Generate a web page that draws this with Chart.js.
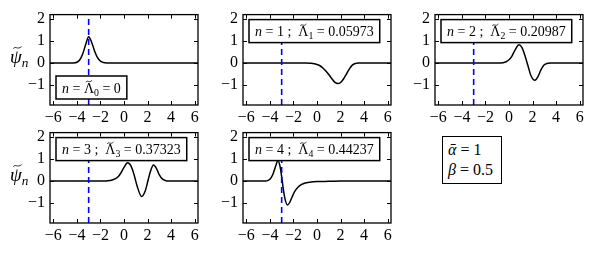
<!DOCTYPE html>
<html>
<head>
<meta charset="utf-8">
<script src="https://cdn.jsdelivr.net/npm/chart.js@4.4.1/dist/chart.umd.min.js"></script>
<style>
html, body { margin: 0; padding: 0; background: #fff; }
body { width: 607px; height: 253px; position: relative; overflow: hidden; }
.panel { position: absolute; }
#params {
    position: absolute; left: 442px; top: 136px; width: 53px; height: 43px;
    border: 1.5px solid #000; background: #fff;
    font: 16px "Liberation Serif", serif; color: #000;
    padding: 3px 0 0 5px; line-height: 20px; box-sizing: content-box;
}
#params i { font-style: italic; }
</style>
</head>
<body>
<div id="params"><div><i>ᾱ</i> = 1</div><div><i>β</i> = 0.5</div></div>
<script>
// axes
const xTicks = [-6, -4, -2, 0, 2, 4, 6];
const yTicks = [-1, 0, 1, 2];
const xRange = [-6.283, 6.283];
const yRange = [-1.9, 2.2];
const markerX = -3;

// eigenfunctions
const psi0X = [-6.3, -4.5, -4.25, -4.0, -3.75, -3.5, -3.25, -3.0, -2.75, -2.5, -2.25, -2.0, -1.75, -1.5, -1.0, 6.3];
const psi0Y = [0, 0, 0.01, 0.04, 0.15, 0.42, 0.85, 1.2, 0.95, 0.55, 0.25, 0.09, 0.03, 0.01, 0, 0];

const psi1X = [-6.3, -1.0, -0.5, 0, 0.25, 0.5, 0.75, 1.0, 1.25, 1.5, 1.8, 2.0, 2.25, 2.5, 2.75, 3.0, 3.25, 3.5, 6.3];
const psi1Y = [0, 0, -0.01, -0.06, -0.12, -0.22, -0.36, -0.52, -0.7, -0.86, -0.93, -0.88, -0.72, -0.5, -0.26, -0.09, -0.02, 0, 0];

const psi2X = [-6.3, -1.0, -0.5, -0.25, 0, 0.25, 0.5, 0.85, 1.1, 1.35, 1.6, 1.85, 2.2, 2.45, 2.7, 2.95, 3.2, 3.5, 6.3];
const psi2Y = [0, 0, 0.02, 0.06, 0.15, 0.32, 0.58, 0.83, 0.7, 0.35, -0.1, -0.55, -0.78, -0.62, -0.32, -0.1, -0.02, 0, 0];

const psi3X = [-6.3, -2.0, -1.5, -1.0, -0.5, -0.25, 0, 0.3, 0.6, 0.85, 1.1, 1.5, 1.8, 2.05, 2.25, 2.5, 2.75, 3.0, 3.25, 3.5, 3.75, 6.3];
const psi3Y = [0, 0, 0.01, 0.05, 0.2, 0.38, 0.62, 0.83, 0.68, 0.3, -0.2, -0.7, -0.45, 0.05, 0.45, 0.73, 0.58, 0.28, 0.1, 0.03, 0, 0];

const psi4X = [-6.3, -4.5, -4.25, -4.0, -3.75, -3.5, -3.32, -3.15, -3.0, -2.85, -2.7, -2.5, -2.3, -2.1, -1.9, -1.6, -1.3, -1.0, -0.5, 0, 1.0, 2.0, 6.3];
const psi4Y = [0, 0, 0.01, 0.08, 0.3, 0.7, 0.94, 0.7, 0.2, -0.4, -0.85, -1.08, -0.95, -0.7, -0.48, -0.27, -0.15, -0.09, -0.04, -0.02, -0.01, 0, 0];

const eigenvalues = ['0', '0.05973', '0.20987', '0.37323', '0.44237'];

const SERIF = '"Liberation Serif", serif';
const minus = v => String(v).replace('-', '\u2212');

// draws a row of math pieces, returns width
function mathRow(ctx, parts, x, y, size, draw) {
    let cx = x;
    parts.forEach(p => {
        const s = p.sub ? size * 0.7 : size;
        ctx.font = (p.it ? 'italic ' : '') + s + 'px ' + SERIF;
        const w = ctx.measureText(p.t).width;
        if (draw) {
            const by = p.sub ? y + size * 0.22 : y;
            ctx.fillText(p.t, cx, by);
            if (p.tilde) {
                const mid = cx + w / 2 + (p.it ? size * 0.08 : 0);
                const ty = y - size * 0.8;
                const hw = size * 0.22;
                ctx.beginPath();
                ctx.moveTo(mid - hw, ty + 1);
                ctx.bezierCurveTo(mid - hw * 0.4, ty - 2, mid, ty + 2.5, mid + hw, ty - 1);
                ctx.lineWidth = 0.8;
                ctx.stroke();
            }
        }
        cx += w;
    });
    return cx - x;
}

function legendParts(n) {
    const parts = [{ t: 'n', it: true }, { t: ' = ' }];
    if (n > 0) parts.push({ t: String(n) }, { t: ' ;  ' });
    parts.push({ t: 'Λ', tilde: true }, { t: String(n), sub: true }, { t: ' = ' }, { t: eigenvalues[n] });
    return parts;
}

const framePlugin = {
    id: 'frame',
    afterDatasetsDraw(chart, args, opts) {
        const { ctx, chartArea: a, scales: { x, y } } = chart;
        ctx.save();
        ctx.strokeStyle = '#000';
        ctx.fillStyle = '#000';
        ctx.lineWidth = 1;
        ctx.beginPath();
        xTicks.forEach(v => {
            const px = Math.round(x.getPixelForValue(v)) + 0.5;
            ctx.moveTo(px, a.bottom); ctx.lineTo(px, a.bottom - 4);
            ctx.moveTo(px, a.top); ctx.lineTo(px, a.top + 4);
        });
        yTicks.forEach(v => {
            const py = Math.round(y.getPixelForValue(v)) + 0.5;
            ctx.moveTo(a.left, py); ctx.lineTo(a.left + 4, py);
            ctx.moveTo(a.right, py); ctx.lineTo(a.right - 4, py);
        });
        ctx.stroke();
        ctx.lineWidth = 1.3;
        ctx.strokeRect(a.left, a.top, a.right - a.left, a.bottom - a.top);

        // label box
        const parts = legendParts(opts.n);
        const size = 14;
        const tw = mathRow(ctx, parts, 0, 0, size, false);
        const bw = tw + 12, bh = 23;
        const bx = a.left + 6;
        const by = opts.n === 0 ? a.bottom - 6 - bh : a.top + 5;
        ctx.fillStyle = '#fff';
        ctx.fillRect(bx, by, bw, bh);
        ctx.lineWidth = 1.5;
        ctx.strokeRect(bx, by, bw, bh);
        ctx.fillStyle = '#000';
        ctx.textBaseline = 'alphabetic';
        ctx.textAlign = 'left';
        mathRow(ctx, parts, bx + 6, by + 16.5, size, true);

        // y label on the left column
        if (opts.ylabel) {
            const cy = (a.top + a.bottom) / 2;
            mathRow(ctx, [{ t: 'ψ', it: true, tilde: true }, { t: 'n', it: true, sub: true }], 10, cy + 3, 19, true);
        }
        ctx.restore();
    }
};

const series = [[psi0X, psi0Y], [psi1X, psi1Y], [psi2X, psi2Y], [psi3X, psi3Y], [psi4X, psi4Y]];
const cols = [50, 243, 435];
const rows = [12, 130];
const W = 148, H = 93;

series.forEach(([xs, ys], n) => {
    const L = cols[n % 3], T = rows[Math.floor(n / 3)];
    const div = document.createElement('div');
    div.className = 'panel';
    div.style.left = (L - 50) + 'px';
    div.style.top = (T - 12) + 'px';
    const canvas = document.createElement('canvas');
    canvas.width = W + 60;
    canvas.height = H + 37;
    div.appendChild(canvas);
    document.body.appendChild(div);

    new Chart(canvas.getContext('2d'), {
        type: 'line',
        data: {
            datasets: [{
                data: [{ x: markerX, y: yRange[0] }, { x: markerX, y: yRange[1] }],
                borderColor: '#0000ff',
                borderWidth: 1.6,
                borderDash: [6, 4],
                pointRadius: 0,
            }, {
                data: xs.map((v, i) => ({ x: v, y: ys[i] })),
                borderColor: '#000',
                borderWidth: 1.5,
                pointRadius: 0,
                cubicInterpolationMode: 'monotone',
            }]
        },
        options: {
            responsive: false,
            animation: false,
            events: [],
            layout: { padding: { top: 12, right: 10, left: 0, bottom: 0 } },
            plugins: {
                legend: { display: false },
                tooltip: { enabled: false },
                frame: { n: n, ylabel: n % 3 === 0 }
            },
            scales: {
                x: {
                    type: 'linear',
                    min: xRange[0], max: xRange[1],
                    afterBuildTicks: s => { s.ticks = xTicks.map(v => ({ value: v })); },
                    afterFit: s => { s.height = 25; },
                    grid: { display: false, drawTicks: false },
                    border: { display: false },
                    ticks: {
                        color: '#000', padding: 3, maxRotation: 0, autoSkip: false,
                        font: { family: SERIF, size: 16 },
                        callback: v => minus(v)
                    }
                },
                y: {
                    type: 'linear',
                    min: yRange[0], max: yRange[1],
                    afterBuildTicks: s => { s.ticks = yTicks.map(v => ({ value: v })); },
                    afterFit: s => { s.width = 50; },
                    grid: { display: false, drawTicks: false },
                    border: { display: false },
                    ticks: {
                        color: '#000', padding: 5, autoSkip: false,
                        font: { family: SERIF, size: 16 },
                        callback: v => minus(v)
                    }
                }
            }
        },
        plugins: [framePlugin]
    });
});
</script>
</body>
</html>
